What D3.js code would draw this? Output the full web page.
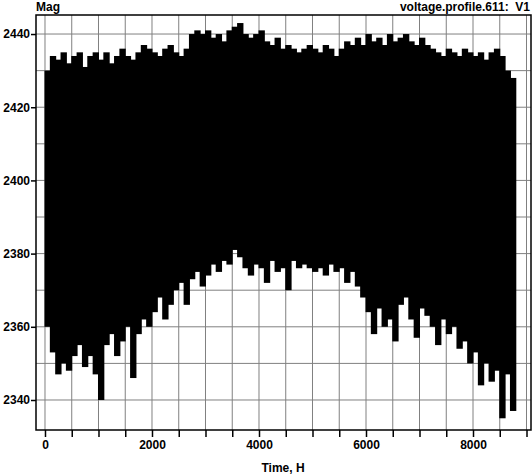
<!DOCTYPE html>
<html><head><meta charset="utf-8">
<script src="https://cdn.jsdelivr.net/npm/d3@7"></script>
<style>body{margin:0;background:#fff}text{font-family:"Liberation Sans",Arial,sans-serif;font-weight:bold}</style>
</head><body><svg id="c" width="532" height="476"></svg>
<script>
const hours=d3.range(0,8800,100);
const upper=[2430,2434,2433,2435,2432,2434,2435,2431,2434,2435,
2433,2435,2432,2434,2436,2434,2433,2435,2437,2436,
2435,2434,2436,2437,2435,2434,2436,2440,2441,2440,
2441,2439,2440,2438,2441,2442,2443,2440,2439,2440,
2441,2438,2437,2439,2436,2437,2436,2435,2436,2437,
2436,2435,2437,2436,2434,2436,2438,2437,2439,2437,
2440,2438,2439,2437,2440,2438,2439,2440,2438,2437,
2439,2437,2436,2435,2434,2436,2435,2434,2436,2435,
2434,2435,2433,2435,2436,2434,2430,2428];
const lower=[2360,2353,2347,2350,2348,2352,2355,2349,2352,2347,
2340,2355,2358,2352,2356,2360,2346,2358,2362,2360,
2364,2368,2362,2366,2370,2372,2366,2373,2375,2371,
2374,2377,2375,2378,2377,2381,2379,2376,2374,2377,
2376,2372,2378,2375,2376,2370,2378,2376,2377,2376,
2375,2376,2374,2377,2375,2376,2372,2375,2371,2368,
2364,2358,2365,2360,2362,2356,2366,2368,2362,2357,
2365,2363,2360,2355,2362,2358,2360,2354,2356,2350,
2353,2344,2350,2345,2348,2335,2347,2337];
const yTicks=[2340,2360,2380,2400,2420,2440];
const xTicks=[0,2000,4000,6000,8000];

const svg=d3.select("#c");
const L=36,R=531,T=15,B=430;
const x=d3.scaleLinear().domain([-168,9084]).range([L,R]);
const y=d3.scaleLinear().domain([2331.8,2445.2]).range([B,T]);
const g=svg.append("g");
g.selectAll(".gx").data(d3.range(0,9001,500)).join("line")
 .attr("x1",d=>x(d)).attr("x2",d=>x(d)).attr("y1",T).attr("y2",B).attr("stroke","#808080");
g.selectAll(".gy").data(d3.range(2340,2445,10)).join("line")
 .attr("x1",L).attr("x2",R).attr("y1",d=>y(d)).attr("y2",d=>y(d)).attr("stroke","#808080");
const bw=x(100)-x(0);
g.selectAll(".b").data(hours).join("rect")
 .attr("x",(d)=>x(d)-0.5).attr("width",bw+1)
 .attr("y",(d,i)=>y(upper[i])).attr("height",(d,i)=>y(lower[i])-y(upper[i])).attr("fill","#000");
svg.append("rect").attr("x",L).attr("y",T).attr("width",R-L).attr("height",B-T).attr("fill","none").attr("stroke","#000").attr("stroke-width",1.5);
const ya=svg.append("g").attr("transform",`translate(${L},0)`).call(d3.axisLeft(y).tickValues(yTicks).tickSize(5).tickFormat(d3.format("d")));
const xa=svg.append("g").attr("transform",`translate(0,${B})`).call(d3.axisBottom(x).tickValues(d3.range(0,9001,500)).tickSize(7).tickFormat(d=>xTicks.includes(d)?d:""));
[ya,xa].forEach(a=>{a.select(".domain").remove();a.selectAll("line").attr("stroke","#000").attr("stroke-width",1.5);a.selectAll("text").attr("fill","#000").style("font-size","12px");});
ya.selectAll("text").attr("x",-6);
svg.append("text").attr("x",L).attr("y",11).style("font-size","12px").text("Mag");
svg.append("text").attr("x",530).attr("y",11).attr("text-anchor","end").style("font-size","12px").attr("xml:space","preserve").text("voltage.profile.611:  V1");
svg.append("text").attr("x",283).attr("y",472).attr("text-anchor","middle").style("font-size","12px").text("Time, H");
</script></body></html>
